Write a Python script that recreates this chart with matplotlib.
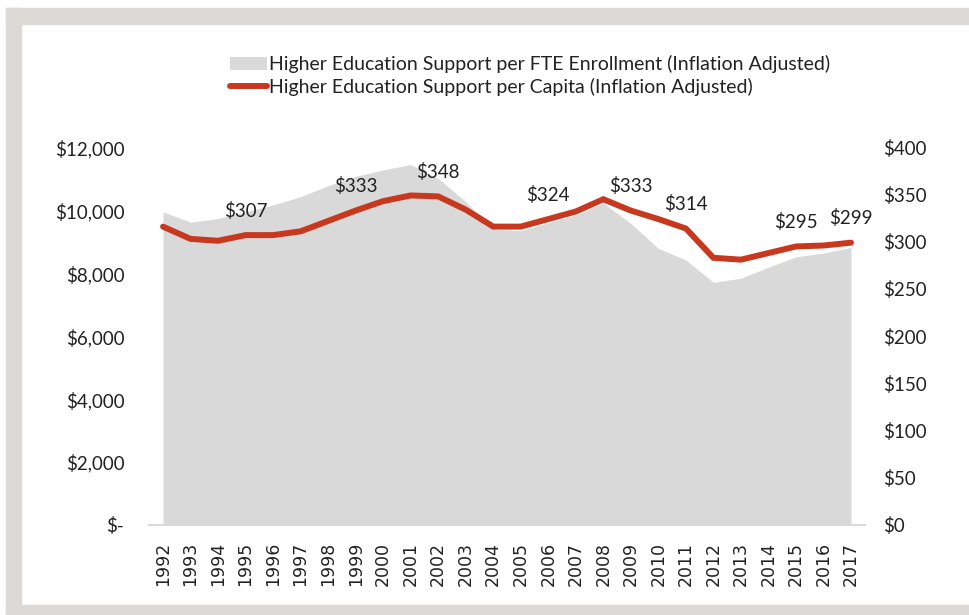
import matplotlib.pyplot as plt
import matplotlib.patches as mpatches
from matplotlib.lines import Line2D
from matplotlib.ticker import FuncFormatter

years = list(range(1992, 2018))
per_fte = [9950, 9620, 9740, 9950, 10170, 10430, 10780, 11080, 11280, 11450,
           11010, 10270, 9400, 9350, 9600, 9850, 10230, 9580, 8790, 8420,
           7710, 7840, 8190, 8520, 8640, 8820]
per_capita = [316, 303, 301, 307, 307, 311, 322, 333, 343, 349,
              348, 334, 316, 316, 324, 332, 345, 333, 324, 314,
              283, 281, 288, 295, 296, 299]
labeled_years = [1995, 1999, 2002, 2006, 2009, 2011, 2015, 2017]

area_color = '#d9d9d9'
line_color = '#c8381f'
frame_color = '#dcd9d6'
font = 'Lato'

fig = plt.figure(figsize=(9.7, 6.15), dpi=100)

# grey frame round the chart
fig.patches.append(mpatches.Rectangle((6/970, 1 - 23.5/615), 1, 15.5/615, transform=fig.transFigure,
                                      color=frame_color, zorder=0))
fig.patches.append(mpatches.Rectangle((6/970, 0), 15/970, 1 - 8/615, transform=fig.transFigure,
                                      color=frame_color, zorder=0))
fig.patches.append(mpatches.Rectangle((6/970, 0), 1, 10/615, transform=fig.transFigure,
                                      color=frame_color, zorder=0))

ax = fig.add_axes([149.25/970, 1 - 525/615, 715.5/970, 377.7/615])
x = list(range(len(years)))
ax.fill_between(x, per_fte, 0, color=area_color, linewidth=0, zorder=1)
ax.set_xlim(-0.5, len(years) - 0.5)
ax.set_ylim(0, 12000)
ax.set_yticks(range(0, 12001, 2000))
ax.yaxis.set_major_formatter(FuncFormatter(lambda v, p: '$-' if v == 0 else f'${v:,.0f}'))
ax.set_xticks(x)
ax.set_xticklabels(years, rotation=90, fontsize=12.5, family='DejaVu Sans', color='#222222')
for lbl in ax.get_yticklabels():
    lbl.set_family(font)
    lbl.set_fontsize(13.5)
ax.tick_params(axis='y', length=0, pad=18, colors='#222222')
ax.tick_params(axis='x', length=0, pad=12, colors='#222222')
for s in ['top', 'right', 'left']:
    ax.spines[s].set_visible(False)
ax.spines['bottom'].set_color(area_color)
ax.spines['bottom'].set_linewidth(1.5)
ax.spines['bottom'].set_zorder(0)

ax2 = ax.twinx()
ax2.plot(x, per_capita, color=line_color, linewidth=4.3, solid_capstyle='round',
         solid_joinstyle='miter', zorder=3)
ax2.set_ylim(0, 400)
ax2.set_yticks(range(0, 401, 50))
ax2.yaxis.set_major_formatter(FuncFormatter(lambda v, p: f'${v:.0f}'))
for lbl in ax2.get_yticklabels():
    lbl.set_family(font)
    lbl.set_fontsize(13.5)
ax2.tick_params(axis='y', length=0, pad=13, colors='#222222')
for s in ['top', 'right', 'left', 'bottom']:
    ax2.spines[s].set_visible(False)

for yr in labeled_years:
    i = years.index(yr)
    ax2.annotate(f'${per_capita[i]}', (i, per_capita[i]), xytext=(0, 17.5),
                 textcoords='offset points', ha='center', va='center',
                 family=font, fontsize=13.5, color='#222222')

handles = [mpatches.Patch(color=area_color, linewidth=0),
           Line2D([], [], color=line_color, linewidth=4.3, solid_capstyle='round')]
labels = ['Higher Education Support per FTE Enrollment (Inflation Adjusted)',
          'Higher Education Support per Capita (Inflation Adjusted)']
leg = fig.legend(handles, labels, loc='upper left', bbox_to_anchor=(222/970, 1 - 47.5/615),
                 frameon=False, prop={'family': font, 'size': 14},
                 handlelength=1.9, handletextpad=0.1, labelspacing=0.25, borderaxespad=0)
for t in leg.get_texts():
    t.set_color('#222222')

fig.savefig('out.png', dpi=100)
